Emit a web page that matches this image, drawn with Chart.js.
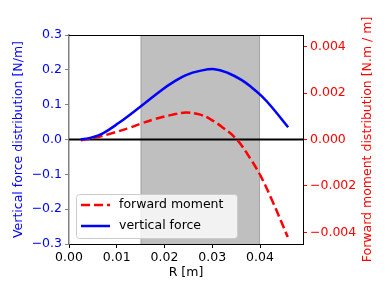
<!DOCTYPE html>
<html>
<head>
<meta charset="utf-8">
<script src="https://cdn.jsdelivr.net/npm/chart.js@4"></script>
<style>
  body { margin: 0; background: #fff; }
  #graph { display: block; }
</style>
</head>
<body>
<canvas id="graph" width="390" height="293"></canvas>
<script>
// vertical force distribution [N/m] against radius [m]
const forceRadius = [0.00245, 0.0042, 0.007, 0.01046, 0.015, 0.0195, 0.022, 0.0245, 0.0274, 0.0305,
                     0.0333, 0.0361, 0.0382, 0.0403, 0.0424, 0.0459];
const verticalForce = [0.0, 0.004, 0.017, 0.048, 0.095, 0.143, 0.166, 0.185, 0.197, 0.202,
                       0.191, 0.171, 0.150, 0.125, 0.094, 0.035];
// forward moment distribution [N.m / m] against radius [m]
const momentRadius = [0.0025, 0.0055, 0.0095, 0.0125, 0.015, 0.018, 0.0215, 0.0245, 0.0275, 0.0295,
                      0.0323, 0.0351, 0.0379, 0.0402, 0.0427, 0.0458];
const forwardMoment = [-0.00003, 0.00008, 0.0003, 0.00049, 0.00068, 0.00088, 0.00106, 0.00116, 0.00107, 0.00089,
                       0.0005, 0.00001, -0.0008, -0.0016, -0.0027, -0.0042];
const shadedSpan = [0.015, 0.04];
const xTicks = [0, 0.01, 0.02, 0.03, 0.04];
const rightTicks = [-0.004, -0.002, 0, 0.002, 0.004];

const minus = s => s.replace('-', '\u2212');
const pairs = (xs, ys) => xs.map((x, i) => ({ x: x, y: ys[i] }));

Chart.defaults.font.family = 'DejaVu Sans';
Chart.defaults.font.size = 12.5;
Chart.defaults.color = '#000';

const decorations = {
    id: 'decorations',
    beforeDatasetsDraw(chart) {
        const ctx = chart.ctx;
        const area = chart.chartArea;
        const x = chart.scales.x;
        const x0 = x.getPixelForValue(shadedSpan[0]);
        const x1 = x.getPixelForValue(shadedSpan[1]);
        ctx.save();
        ctx.fillStyle = '#bfbfbf';
        ctx.fillRect(x0, area.top, x1 - x0, area.bottom - area.top);
        ctx.strokeStyle = '#a6a6a6';
        ctx.lineWidth = 1;
        ctx.beginPath();
        ctx.moveTo(x0 + 0.5, area.top); ctx.lineTo(x0 + 0.5, area.bottom);
        ctx.moveTo(x1 - 0.5, area.top); ctx.lineTo(x1 - 0.5, area.bottom);
        ctx.stroke();
        ctx.restore();
    },
    afterDraw(chart) {
        const ctx = chart.ctx;
        const area = chart.chartArea;
        ctx.save();
        // top of the frame
        ctx.strokeStyle = '#000';
        ctx.lineWidth = 1;
        ctx.beginPath();
        ctx.moveTo(area.left, area.top + 0.5);
        ctx.lineTo(area.right, area.top + 0.5);
        ctx.stroke();

        // right axis title, reading bottom to top
        ctx.fillStyle = 'red';
        ctx.font = '12.5px "DejaVu Sans"';
        ctx.textAlign = 'center';
        ctx.textBaseline = 'middle';
        ctx.translate(368, (area.top + area.bottom) / 2);
        ctx.rotate(-Math.PI / 2);
        ctx.fillText('Forward moment distribution [N.m / m]', 0, 0);
        ctx.restore();

        // legend
        ctx.save();
        const bx = area.left + 7, by = area.bottom - 50, bw = 161, bh = 44;
        ctx.fillStyle = 'rgba(255,255,255,0.8)';
        ctx.strokeStyle = '#cccccc';
        ctx.lineWidth = 1;
        ctx.beginPath();
        ctx.roundRect(bx + 0.5, by + 0.5, bw, bh, 3);
        ctx.fill();
        ctx.stroke();
        const items = [chart.data.datasets[1], chart.data.datasets[0]];
        items.forEach((ds, i) => {
            const ly = by + 11 + i * 21;
            ctx.strokeStyle = ds.borderColor;
            ctx.lineWidth = ds.borderWidth;
            ctx.setLineDash(ds.borderDash || []);
            ctx.beginPath();
            ctx.moveTo(bx + 5, ly);
            ctx.lineTo(bx + 34, ly);
            ctx.stroke();
            ctx.setLineDash([]);
            ctx.fillStyle = '#000';
            ctx.font = '12.5px "DejaVu Sans"';
            ctx.textAlign = 'left';
            ctx.textBaseline = 'middle';
            ctx.fillText(ds.label, bx + 43, ly);
        });
        ctx.restore();
    }
};

new Chart(document.getElementById('graph').getContext('2d'), {
    type: 'line',
    data: {
        datasets: [
            {
                label: 'vertical force',
                data: pairs(forceRadius, verticalForce),
                yAxisID: 'y',
                borderColor: 'blue',
                borderWidth: 2.5,
                pointRadius: 0,
                tension: 0.4,
                order: 1
            },
            {
                label: 'forward moment',
                data: pairs(momentRadius, forwardMoment),
                yAxisID: 'y2',
                borderColor: 'red',
                borderWidth: 2.5,
                borderDash: [9, 4],
                pointRadius: 0,
                tension: 0.4,
                order: 2
            },
            {
                label: 'zero',
                data: [{ x: 0, y: 0 }, { x: 0.049, y: 0 }],
                yAxisID: 'y',
                borderColor: '#000',
                borderWidth: 2,
                pointRadius: 0,
                order: 3
            }
        ]
    },
    options: {
        responsive: false,
        animation: false,
        layout: { padding: { top: 35, left: 0, right: 0, bottom: 0 } },
        plugins: { legend: { display: false }, tooltip: { enabled: false } },
        scales: {
            x: {
                type: 'linear',
                min: 0,
                max: 0.049,
                afterBuildTicks: s => { s.ticks = xTicks.map(v => ({ value: v })); },
                afterFit: s => { s.height = 49; },
                ticks: { color: '#000', padding: 2, callback: v => v.toFixed(2) },
                grid: { drawOnChartArea: false, tickLength: 4, color: '#000' },
                border: { color: '#000' },
                title: { display: true, text: 'R [m]', color: '#000', padding: { top: 0, bottom: 13 } }
            },
            y: {
                position: 'left',
                min: -0.3,
                max: 0.3,
                ticks: { stepSize: 0.1, color: 'blue', padding: 3, callback: v => minus(v.toFixed(1)) },
                afterFit: s => { s.width = 69; },
                grid: { drawOnChartArea: false, tickLength: 4, color: '#808080' },
                border: { color: '#808080', width: 1.5 },
                title: { display: true, text: 'Vertical force distribution [N/m]', color: 'blue', padding: { top: 11, bottom: 0 } }
            },
            y2: {
                position: 'right',
                min: -0.0045,
                max: 0.0045,
                afterBuildTicks: s => { s.ticks = rightTicks.map(v => ({ value: v })); },
                afterFit: s => { s.width = 87; },
                ticks: { color: 'red', padding: 3, callback: v => minus(v.toFixed(3)) },
                grid: { drawOnChartArea: false, tickLength: 4, color: 'red' },
                border: { color: '#000' }
            }
        }
    },
    plugins: [decorations]
});
</script>
</body>
</html>
